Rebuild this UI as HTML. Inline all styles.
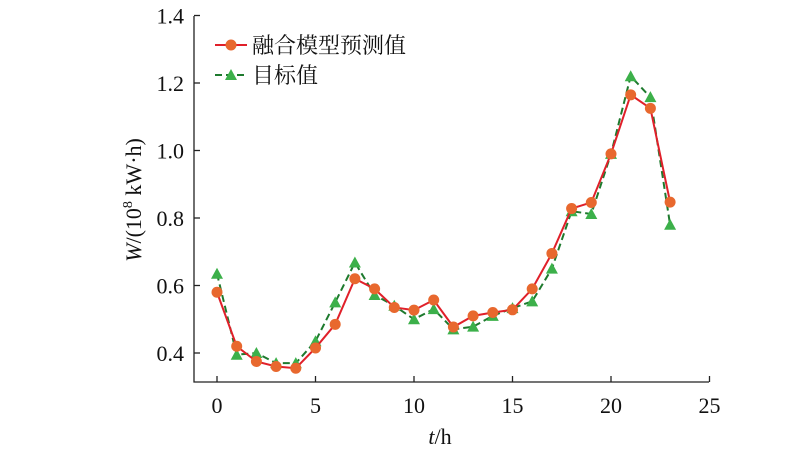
<!DOCTYPE html>
<html><head><meta charset="utf-8"><style>
body{margin:0;background:#fff;}
text{font-family:"Liberation Serif","Noto Serif CJK SC",serif;fill:#111;}
</style></head><body>
<svg id="c" width="800" height="453"></svg>
<script>
const hours=[0,1,2,3,4,5,6,7,8,9,10,11,12,13,14,15,16,17,18,19,20,21,22,23];
const predicted=[0.58,0.42,0.375,0.36,0.355,0.415,0.485,0.62,0.59,0.535,0.527,0.557,0.477,0.51,0.52,0.528,0.59,0.695,0.828,0.846,0.99,1.165,1.125,0.847];
const target=[0.635,0.395,0.40,0.37,0.37,0.435,0.55,0.668,0.572,0.54,0.50,0.53,0.47,0.478,0.51,0.533,0.553,0.65,0.82,0.812,0.99,1.22,1.158,0.78];
const xTicks=[0,5,10,15,20,25];
const yTicks=[0.4,0.6,0.8,1.0,1.2,1.4];
const yTickLabels=["0.4","0.6","0.8","1.0","1.2","1.4"];
const NS="http://www.w3.org/2000/svg";
const svg=document.getElementById('c');
const X=v=>217+v*19.7;
const Y=v=>353-(v-0.4)*337.5;
function mk(t,a,p){const e=document.createElementNS(NS,t);for(const k in a)e.setAttribute(k,a[k]);(p||svg).appendChild(e);return e;}
let e;
e=mk('path',{d:'M194,16 V382 H709',fill:'none',stroke:'#222','stroke-width':1.3});


xTicks.forEach(t=>{
 e=mk('line',{x1:X(t),x2:X(t),y1:382,y2:376,stroke:'#222','stroke-width':1.3});
 
 
 e=mk('text',{x:X(t),y:413,'text-anchor':'middle','font-size':22});e.textContent=t;
 
 
});
yTicks.forEach((t,i)=>{
 e=mk('line',{x1:194,x2:200,y1:Y(t),y2:Y(t),stroke:'#222','stroke-width':1.3});
 
 
 e=mk('text',{x:184,y:Y(t)+8,'text-anchor':'end','font-size':22});e.textContent=yTickLabels[i];
 
 
});
e=mk('text',{x:440,y:444,'text-anchor':'middle','font-size':22});
e.innerHTML='<tspan font-style="italic">t</tspan>/h';


e=mk('text',{x:0,y:0,'text-anchor':'middle','font-size':22,transform:'translate(141,200) rotate(-90)'});
e.innerHTML='<tspan font-style="italic">W</tspan>/(10<tspan font-size="14" dy="-9">8</tspan><tspan dy="9"> kW·h)</tspan>';


// target series
e=mk('polyline',{points:hours.map((h,i)=>X(h)+','+Y(target[i])).join(' '),fill:'none',stroke:'#1e7a2e','stroke-width':2,'stroke-dasharray':'7,4'});


hours.forEach((h,i)=>{const x=X(h),y=Y(target[i]);
 e=mk('polygon',{points:`${x},${y-6} ${x-6},${y+5} ${x+6},${y+5}`,fill:'#3cb04a'});
 
 
});
e=mk('polyline',{points:hours.map((h,i)=>X(h)+','+Y(predicted[i])).join(' '),fill:'none',stroke:'#e0202a','stroke-width':2});


hours.forEach((h,i)=>{
 e=mk('circle',{cx:X(h),cy:Y(predicted[i]),r:5.5,fill:'#e8682e'});
 
 
});
// legend
const lg=mk('g',{});


e=mk('line',{x1:215,x2:247,y1:45,y2:45,stroke:'#e0202a','stroke-width':2},lg);
e=mk('circle',{cx:231,cy:45,r:5.5,fill:'#e8682e'},lg);
e=mk('text',{x:252,y:53,'font-size':22},lg);e.textContent='融合模型预测值';


e=mk('line',{x1:215,x2:247,y1:75,y2:75,stroke:'#1e7a2e','stroke-width':2,'stroke-dasharray':'7,4'},lg);
e=mk('polygon',{points:'231,69 225,80 237,80',fill:'#3cb04a'},lg);
e=mk('text',{x:252,y:83,'font-size':22},lg);e.textContent='目标值';


</script>
</body></html>
